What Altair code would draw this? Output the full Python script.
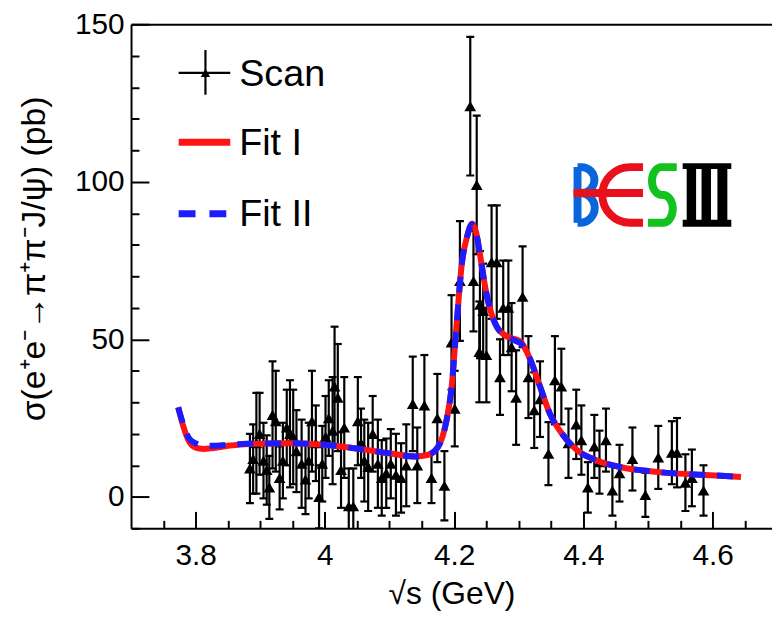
import altair as alt
import pandas as pd

# ---------------- data ----------------
scan_E = [3.884, 3.889, 3.894, 3.899, 3.905, 3.910, 3.914, 3.919, 3.924, 3.930,
          3.935, 3.941, 3.946, 3.951, 3.956, 3.964, 3.970, 3.975, 3.980, 3.986,
          3.991, 3.996, 4.001, 4.006, 4.012, 4.015, 4.020, 4.025, 4.030, 4.037,
          4.044, 4.051, 4.056, 4.061, 4.067, 4.074, 4.082, 4.088, 4.095, 4.102,
          4.110, 4.118, 4.126, 4.136, 4.143, 4.154, 4.165, 4.174, 4.185, 4.196,
          4.201, 4.209, 4.225, 4.230, 4.235, 4.239, 4.240, 4.245, 4.250, 4.258,
          4.266, 4.271, 4.276, 4.284, 4.289, 4.296, 4.306, 4.315, 4.324, 4.333,
          4.346, 4.356, 4.366, 4.377, 4.389, 4.397, 4.407, 4.417, 4.425, 4.435,
          4.445, 4.456, 4.476, 4.496, 4.516, 4.537, 4.545, 4.558, 4.568, 4.586]
scan_sigma = [9.0, 12.0, 17.0, 20.0, 11.5, 8.5, 3.0, 26.0, 24.0, 6.0,
              11.5, 22.0, 20.0, 19.0, 14.5, 10.5, 5.5, 11.5, 24.0, 17.0,
              0.0, 10.5, 19.0, 25.0, 21.0, 35.0, 31.5, 8.5, 22.0, -3.0,
              -3.0, 24.0, 17.0, 11.5, 9.5, 20.0, 10.5, 6.0, 7.5, 10.5,
              7.0, 6.0, 10.0, 29.5, 10.0, 29.0, 6.0, 25.0, 3.5, 49.0,
              28.0, 68.5, 124.0, 68.5, 99.0, 46.0, 61.0, 59.0, 45.0, 74.5,
              74.5, 38.0, 60.0, 60.0, 47.5, 31.5, 63.5, 38.0, 27.5, 31.0,
              13.7, 37.0, 35.0, 17.0, 23.0, 18.0, 3.0, 16.0, 11.0, 18.0,
              2.0, 7.5, 12.0, 0.6, 12.5, 14.0, 14.0, 4.5, 6.0, 2.0]
scan_err = [11, 11, 16, 13, 12, 11, 10, 17, 16, 10,
            12, 12, 17, 15, 13, 14, 11, 12, 16, 12,
            10, 12, 13, 12, 17, 19, 17, 12, 16, 12,
            12, 14, 11, 13, 14, 12, 14, 12, 11, 11,
            13, 11, 13, 15, 12, 16, 8, 14, 11, 15,
            12, 19, 22, 16, 22, 16, 17, 15, 15, 18,
            18, 12, 15, 15, 14, 15, 16, 13, 12, 12,
            10, 14, 12, 11, 11, 11, 8, 10, 10, 10,
            8, 9, 10, 7, 10, 10, 11, 9, 9, 8]

fit_E = [3.773, 3.780, 3.790, 3.800, 3.812, 3.825, 3.850, 3.890, 3.950, 4.000,
         4.050, 4.100, 4.140, 4.160, 4.174, 4.182, 4.189, 4.196, 4.204, 4.212,
         4.220, 4.228, 4.234, 4.240, 4.250, 4.258, 4.266, 4.281, 4.295, 4.304,
         4.317, 4.333, 4.348, 4.369, 4.389, 4.420, 4.460, 4.500, 4.530, 4.580,
         4.620, 4.644]
fit1_sigma = [28.4, 23.0, 17.5, 15.6, 15.2, 15.4, 16.2, 16.8, 17.0, 16.5,
              15.3, 13.8, 12.8, 13.3, 15.5, 19.0, 25.0, 34.5, 55.0, 74.0,
              82.5, 86.8, 84.0, 77.0, 64.5, 58.0, 54.0, 51.0, 50.0, 49.0,
              44.0, 35.0, 26.5, 19.5, 15.0, 11.6, 9.3, 8.2, 7.6, 7.0,
              6.6, 6.3]
fit2_sigma = [28.4, 23.5, 18.5, 17.0, 16.3, 16.2, 16.5, 16.9, 17.0, 16.5,
              15.3, 13.8, 12.8, 13.4, 15.5, 19.0, 25.0, 34.5, 55.0, 74.0,
              82.5, 86.5, 84.0, 77.0, 64.5, 58.0, 54.0, 51.0, 49.5, 48.5,
              44.0, 35.0, 26.5, 19.5, 15.0, 11.6, 9.3, 8.2, 7.6, 7.0,
              6.6, 6.3]

x_major = [3.8, 4.0, 4.2, 4.4, 4.6]
x_minor = [3.75, 3.85, 3.9, 3.95, 4.05, 4.1, 4.15, 4.25, 4.3, 4.35,
           4.45, 4.5, 4.55, 4.65]
y_major = [0, 50, 100, 150]
y_minor = [-10, 10, 20, 30, 40, 60, 70, 80, 90, 110, 120, 130, 140]

legend_labels = ["Scan", "Fit I", "Fit II"]
x_title = "√s (GeV)"
y_title = "σ(e⁺e⁻→π⁺π⁻J/ψ)  (pb)"

# ---------------- layout ----------------
W, H = 646, 508
XDOM = [3.7, 4.692]
YDOM = [-10, 150]
FONT = "Liberation Sans, Arial, sans-serif"
RED = "#ff1414"
BLUE = "#1c1cff"

scan = pd.DataFrame({"E": scan_E, "sigma": scan_sigma, "err": scan_err})
scan["lo"] = scan["sigma"] - scan["err"]
scan["hi"] = scan["sigma"] + scan["err"]
fits = pd.DataFrame({"E": fit_E, "f1": fit1_sigma, "f2": fit2_sigma})
one = pd.DataFrame({"k": [0]})

xs = alt.Scale(domain=XDOM, nice=False, zero=False)
ys = alt.Scale(domain=YDOM, nice=False, zero=False)

ax_x_main = alt.Axis(orient="bottom", values=x_major, format="~g", ticks=False, tickSize=0,
                     domain=True, domainColor="black", domainWidth=2, grid=False,
                     labelFont=FONT, labelFontSize=30, labelColor="black", labelPadding=12,
                     labelFlush=False, labelOverlap=False,
                     title=x_title, titleFont=FONT, titleFontSize=32, titleFontWeight="normal",
                     titleColor="black", titleX=W / 2, titleY=66, titleAlign="center",
                     titleBaseline="middle")
ax_x_major = alt.Axis(orient="top", offset=-H, values=x_major, ticks=True, tickSize=17,
                      tickWidth=2, tickColor="black", labels=False, domain=False, grid=False,
                      title=None)
ax_x_minor = alt.Axis(orient="top", offset=-H, values=x_minor, ticks=True, tickSize=8,
                      tickWidth=2, tickColor="black", labels=False, domain=False, grid=False,
                      title=None)
ax_x_top = alt.Axis(orient="top", values=x_major, ticks=False, tickSize=0, labels=False,
                    domain=True, domainColor="black", domainWidth=2, grid=False, title=None)

ax_y_main = alt.Axis(orient="left", values=y_major, ticks=False, tickSize=0,
                     domain=True, domainColor="black", domainWidth=2, grid=False,
                     labelFont=FONT, labelFontSize=30, labelColor="black", labelPadding=7,
                     labelOverlap=False,
                     title=y_title, titleFont=FONT, titleFontSize=34, titleFontWeight="normal",
                     titleColor="black", titleAngle=270, titleX=-97, titleY=236,
                     titleAlign="center", titleBaseline="middle")
ax_y_major = alt.Axis(orient="right", offset=-W, values=y_major, ticks=True, tickSize=18,
                      tickWidth=2, tickColor="black", labels=False, domain=False, grid=False,
                      title=None)
ax_y_minor = alt.Axis(orient="right", offset=-W, values=y_minor, ticks=True, tickSize=8,
                      tickWidth=2, tickColor="black", labels=False, domain=False, grid=False,
                      title=None)

# ---------------- data layers ----------------
bars = alt.Chart(scan).mark_rule(color="black", strokeWidth=2.2, clip=True).encode(
    x=alt.X("E:Q", scale=xs, axis=ax_x_minor),
    y=alt.Y("lo:Q", scale=ys, axis=ax_y_minor),
    y2="hi:Q",
)
caps_lo = alt.Chart(scan).mark_tick(orient="horizontal", size=8, thickness=2.2, color="black",
                                    opacity=1, clip=True).encode(
    x=alt.X("E:Q", scale=xs, axis=ax_x_top),
    y=alt.Y("lo:Q", scale=ys, axis=None),
)
caps_hi = alt.Chart(scan).mark_tick(orient="horizontal", size=8, thickness=2.2, color="black",
                                    opacity=1, clip=True).encode(
    x=alt.X("E:Q", scale=xs, axis=None),
    y=alt.Y("hi:Q", scale=ys, axis=None),
)
tri = alt.Chart(scan).mark_point(shape="triangle-up", filled=True, color="black", size=140,
                                 opacity=1, clip=True).encode(
    x=alt.X("E:Q", scale=xs, axis=None),
    y=alt.Y("sigma:Q", scale=ys, axis=None),
)
fit1 = alt.Chart(fits).mark_line(color=RED, strokeWidth=6, interpolate="monotone",
                                 clip=True).encode(
    x=alt.X("E:Q", scale=xs, axis=ax_x_main),
    y=alt.Y("f1:Q", scale=ys, axis=ax_y_main),
)
fit2 = alt.Chart(fits).mark_line(color=BLUE, strokeWidth=6, strokeDash=[16, 12],
                                 interpolate="monotone", clip=True).encode(
    x=alt.X("E:Q", scale=xs, axis=ax_x_major),
    y=alt.Y("f2:Q", scale=ys, axis=ax_y_major),
)

# ---------------- legend ----------------
leg_scan_h = alt.Chart(one).mark_rule(color="black", strokeWidth=2.2).encode(
    x=alt.value(48), x2=alt.value(100), y=alt.value(49))
leg_scan_v = alt.Chart(one).mark_rule(color="black", strokeWidth=2.2).encode(
    x=alt.value(75), y=alt.value(26), y2=alt.value(71))
leg_scan_t = alt.Chart(one).mark_point(shape="triangle-up", filled=True, color="black",
                                       size=90, opacity=1).encode(
    x=alt.value(75), y=alt.value(49))
leg_fit1 = alt.Chart(one).mark_rule(color=RED, strokeWidth=7).encode(
    x=alt.value(48), x2=alt.value(100), y=alt.value(119))
leg_fit2 = alt.Chart(one).mark_rule(color=BLUE, strokeWidth=7, strokeDash=[17, 14]).encode(
    x=alt.value(48), x2=alt.value(100), y=alt.value(191))
leg_text = [
    alt.Chart(one).mark_text(text=lab, font=FONT, fontSize=38, color="black",
                             align="left", baseline="middle").encode(
        x=alt.value(109), y=alt.value(yy))
    for lab, yy in zip(legend_labels, [51, 121, 192])
]

# ---------------- BESIII logo (vector shapes) ----------------
LOGO_X, LOGO_Y, LOGO_SIZE = 525.5, 172, 4225
path_B = ("M -2.323 -0.862 L -2.323 0.862 "
          "M -2.323 -0.862 L -2.2 -0.862 A 0.401 0.401 0 0 1 -2.2 -0.06 L -2.323 -0.06 "
          "M -2.323 -0.06 L -2.25 -0.06 A 0.461 0.461 0 0 1 -2.25 0.862 L -2.323 0.862")
path_E = ("M -0.292 -0.862 L -0.692 -0.862 A 0.862 0.862 0 0 0 -0.692 0.862 L -0.292 0.862 "
          "M -2.446 -0.06 L -0.292 -0.06")
path_S = ("M 0.754 -0.862 L 0.285 -0.862 A 0.3 0.431 0 0 0 0.285 0 L 0.331 0 "
          "A 0.3 0.431 0 0 1 0.331 0.862 L -0.138 0.862")
path_III = ("M 0.938 -0.985 L 2.446 -0.985 L 2.446 -0.8 L 0.938 -0.8 Z "
            "M 0.938 0.769 L 2.446 0.769 L 2.446 0.985 L 0.938 0.985 Z "
            "M 1.062 -0.8 L 1.354 -0.8 L 1.354 0.769 L 1.062 0.769 Z "
            "M 1.523 -0.8 L 1.815 -0.8 L 1.815 0.769 L 1.523 0.769 Z "
            "M 2.015 -0.8 L 2.323 -0.8 L 2.323 0.769 L 2.015 0.769 Z")


def logo_part(path, color, filled):
    if filled:
        mk = alt.Chart(one).mark_point(shape=path, size=LOGO_SIZE, filled=True, color=color,
                                       opacity=1, strokeWidth=0)
    else:
        mk = alt.Chart(one).mark_point(shape=path, size=LOGO_SIZE, filled=False, color=color,
                                       opacity=1, strokeWidth=8, strokeCap="butt")
    return mk.encode(x=alt.value(LOGO_X), y=alt.value(LOGO_Y))


logo = [logo_part(path_B, "#0a64dc", False),
        logo_part(path_E, "#e8101c", False),
        logo_part(path_S, "#12c21e", False),
        logo_part(path_III, "black", True)]

chart = alt.layer(
    bars, caps_lo, caps_hi, tri, fit1, fit2,
    leg_scan_h, leg_scan_v, leg_scan_t, leg_fit1, leg_fit2, *leg_text, *logo
).resolve_axis(x="independent", y="independent").properties(
    width=W, height=H,
    padding={"left": 124, "top": 14, "right": 0, "bottom": 86},
    autosize=alt.AutoSizeParams(type="none"),
    background="white",
).configure_view(stroke=None)

chart.save("out.html", embed_options={"renderer": "svg", "actions": False})
